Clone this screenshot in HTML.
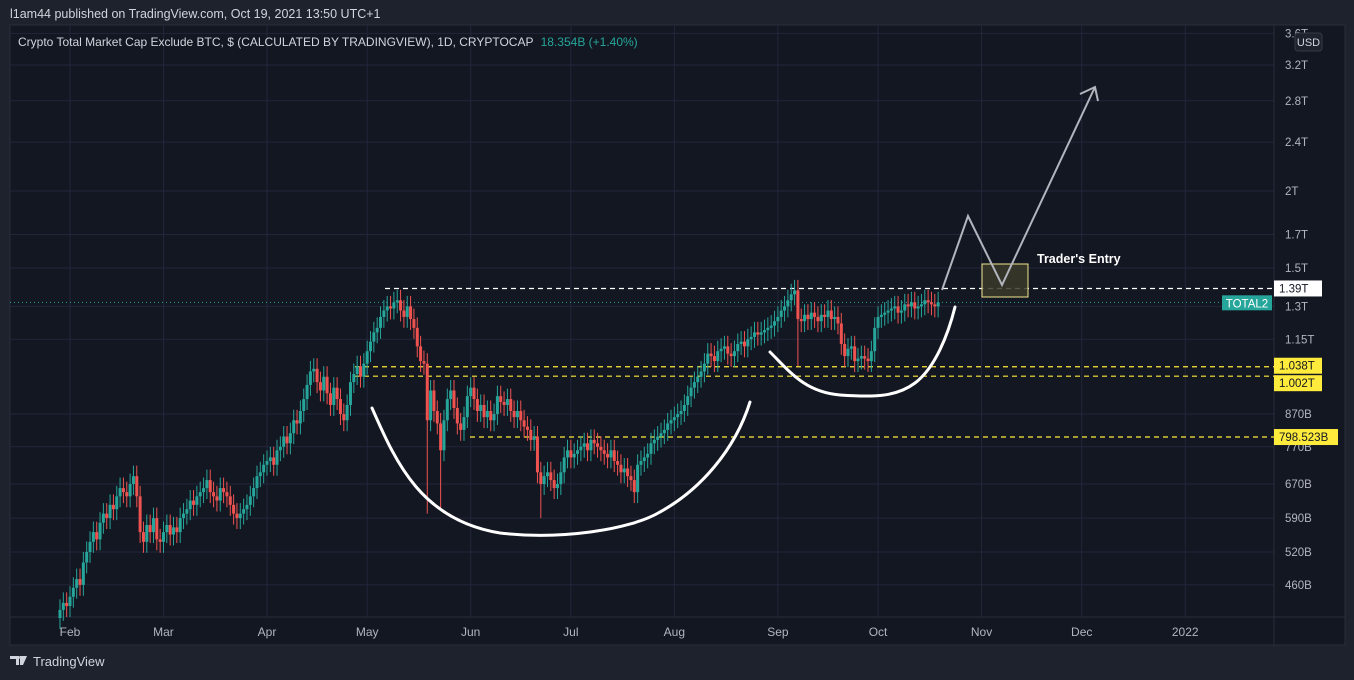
<!DOCTYPE html>
<html><head><meta charset="utf-8">
<style>
html,body{margin:0;padding:0;background:#1e222d;width:1354px;height:680px;overflow:hidden;font-family:"Liberation Sans",sans-serif;}
svg text{font-family:"Liberation Sans",sans-serif;}
</style></head>
<body>
<svg id="c" width="1354" height="680" viewBox="0 0 1354 680">
  <rect x="0" y="0" width="1354" height="680" fill="#1e222d"/>
  <text x="10" y="18" fill="#d1d4dc" font-size="12.5">l1am44 published on TradingView.com, Oct 19, 2021 13:50 UTC+1</text>
  <rect x="10" y="25" width="1335" height="620" fill="#131722" stroke="#2a2e39"/>
  <g id="grid"></g>
  <line x1="1274" y1="25" x2="1274" y2="645" stroke="#2a2e39"/>
  <line x1="10" y1="617" x2="1345" y2="617" stroke="#2a2e39"/>
  <g id="levels"></g>
  <g id="candles"></g>
  <g id="draw">
    <path d="M372,408 C395,460 420,520 500,533 C560,540 630,530 660,512 C700,490 735,450 750,402" fill="none" stroke="#ffffff" stroke-width="3" stroke-linecap="round"/>
    <path d="M770,352 C790,372 805,392 840,395 C870,397 895,398 915,383 C935,368 948,335 955,307" fill="none" stroke="#ffffff" stroke-width="3" stroke-linecap="round"/>
    <rect x="982" y="264" width="46" height="33" fill="#3b3a2a" fill-opacity="0.85" stroke="#f0e68c" stroke-width="1"/>
    <polyline points="942,290 968,216 1002,285 1095,87" fill="none" stroke="#b2b5be" stroke-width="2"/>
    <polyline points="1080,94 1095,87 1098,101" fill="none" stroke="#b2b5be" stroke-width="2"/>
    <text x="1037" y="263" fill="#ffffff" font-size="12.5" font-weight="bold">Trader's Entry</text>
  </g>
  <text x="18" y="46" fill="#d1d4dc" font-size="12">Crypto Total Market Cap Exclude BTC, $ (CALCULATED BY TRADINGVIEW), 1D, CRYPTOCAP <tspan fill="#26a69a" dx="4">18.354B (+1.40%)</tspan></text>
  <g id="yaxis"></g>
  <g id="xaxis"></g>
  <rect x="1295" y="33" width="27" height="18" rx="3" fill="#1e222d" stroke="#363a45"/>
  <text x="1308.5" y="46" fill="#d1d4dc" font-size="11" text-anchor="middle">USD</text>
  <g>
    <path d="M10,656 h9 v9 h-3 v-6 h-6z M20,656 h7 l-4,9 h-3z" fill="#d1d4dc"/>
    <circle cx="20.5" cy="657.5" r="1.5" fill="#d1d4dc"/>
    <text x="33" y="666" fill="#d1d4dc" font-size="13">TradingView</text>
  </g>
</svg>
<script>
const months = ["Feb","Mar","Apr","May","Jun","Jul","Aug","Sep","Oct","Nov","Dec","2022"];
const monthDayIdx = [3,31,62,92,123,153,184,215,245,276,306,337];
const priceTicks = [3.6,3.2,2.8,2.4,2,1.7,1.5,1.3,1.15,0.87,0.77,0.67,0.59,0.52,0.46];
const priceTickLabels = ["3.6T","3.2T","2.8T","2.4T","2T","1.7T","1.5T","1.3T","1.15T","870B","770B","670B","590B","520B","460B"];
const levelValues = [1.39,1.038,1.002,0.7985];
const levelLabels = ["1.39T","1.038T","1.002T","798.523B"];
const lastPrice = 1.32;
const closes = [419,430,425,
440,455,470,460,500,520,540,560,545,580,600,590,620,610,640,660,650,640,670,690,640,560,540,575,560,590,545,540,
560,575,555,570,560,590,600,610,630,620,640,650,660,680,650,640,630,660,650,640,620,600,590,600,610,620,640,660,690,700,720,
730,740,720,760,770,800,780,810,850,840,880,920,970,1020,1030,980,950,1000,940,900,960,920,870,850,900,980,1010,1040,1000,1050,
1100,1140,1180,1200,1250,1280,1300,1290,1320,1330,1280,1250,1300,1240,1200,1120,1060,1050,850,950,880,840,760,850,920,950,890,840,820,860,930,
960,920,880,900,860,880,850,870,930,910,900,920,880,860,880,850,830,820,790,800,700,670,690,700,680,660,670,700,740,760,
740,750,760,770,780,760,790,780,770,760,750,740,760,730,720,700,710,690,680,650,720,730,740,750,780,790,800,810,820,840,850,
860,870,880,900,930,960,980,1000,1020,1050,1090,1080,1060,1100,1110,1120,1090,1080,1100,1130,1140,1120,1150,1160,1180,1170,1180,1190,1200,1210,1230,
1250,1280,1300,1330,1360,1380,1240,1230,1260,1240,1270,1250,1230,1260,1250,1280,1240,1250,1220,1130,1080,1110,1120,1060,1070,1080,1070,1060,1100,1200,
1250,1260,1270,1280,1290,1300,1270,1280,1310,1300,1320,1290,1300,1310,1330,1320,1310,1300,1320];
const spikeIdx = [110,114,144,221];
const spikeLow = [600,610,590,1040];

const NS="http://www.w3.org/2000/svg";
function xScale(i){return 70+(i-3)*3.339;}
function yScale(v){return 65+268*Math.log(3.2/v);}
function mk(t,a,p){const e=document.createElementNS(NS,t);for(const k in a)e.setAttribute(k,a[k]);p.appendChild(e);return e;}
const grid=document.getElementById('grid'),lev=document.getElementById('levels'),cg=document.getElementById('candles'),ya=document.getElementById('yaxis'),xa=document.getElementById('xaxis');

priceTicks.forEach((p,i)=>{
  const y=yScale(p);
  const l=mk('line',{x1:10,x2:1274,y1:y,y2:y,stroke:'#22263a','stroke-width':1},grid);
  
  
  const t=mk('text',{x:1285,y:y+4,fill:'#b2b5be','font-size':11.5},ya);
  t.textContent=priceTickLabels[i];
  
  
});
months.forEach((m,i)=>{
  const x=xScale(monthDayIdx[i]);
  const l=mk('line',{x1:x,x2:x,y1:25,y2:617,stroke:'#22263a','stroke-width':1},grid);
  
  
  const t=mk('text',{x:x,y:636,fill:'#b2b5be','font-size':12,'text-anchor':'middle'},xa);
  t.textContent=m;
  
  
});

const levStart=[385,355,355,470];
const levColor=['#ffffff','#ffeb3b','#ffeb3b','#ffeb3b'];
const tagShift=[0,-1,7,0];
levelValues.forEach((v,i)=>{
  const y=yScale(v);
  const l=mk('line',{x1:levStart[i],x2:1274,y1:y,y2:y,stroke:levColor[i],'stroke-width':1.2,'stroke-dasharray':'5,4'},lev);
  
  
  const ty=y+tagShift[i];
  const bg=i===0?'#ffffff':'#ffeb3b';
  const w=i===3?64:48;
  const r=mk('rect',{x:1274,y:ty-8,width:w,height:16,fill:bg},ya);
  
  
  const t=mk('text',{x:1279,y:ty+4,fill:'#131722','font-size':11.5},ya);
  t.textContent=levelLabels[i];
  
  
});
{
  const y=yScale(lastPrice);
  const l=mk('line',{x1:10,x2:1274,y1:y,y2:y,stroke:'#26a69a','stroke-width':1,'stroke-dasharray':'1,3'},lev);
  
  
  const r=mk('rect',{x:1222,y:y-7,width:50,height:15,fill:'#26a69a'},lev);
  
  
  const t=mk('text',{x:1247,y:y+5,fill:'#ffffff','font-size':11.5,'text-anchor':'middle'},lev);
  t.textContent='TOTAL2';
  
  
}

closes.forEach((c,i)=>{
  const o=i===0?c*0.97:closes[i-1];
  const up=c>=o;
  const col=up?'#26a69a':'#ef5350';
  const hi=Math.max(o,c)*1.04;
  let lo=Math.min(o,c)*0.96;
  const s=spikeIdx.indexOf(i);
  if(s>=0) lo=spikeLow[s];
  const x=xScale(i);
  const w=mk('line',{x1:x,x2:x,y1:yScale(hi/1000),y2:yScale(lo/1000),stroke:col,'stroke-width':1},cg);
  
  
  const yt=yScale(Math.max(o,c)/1000),yb=yScale(Math.min(o,c)/1000);
  const b=mk('rect',{x:x-1.5,y:yt,width:3,height:Math.max(1,yb-yt),fill:col},cg);
  
  
});
</script>
</body></html>
